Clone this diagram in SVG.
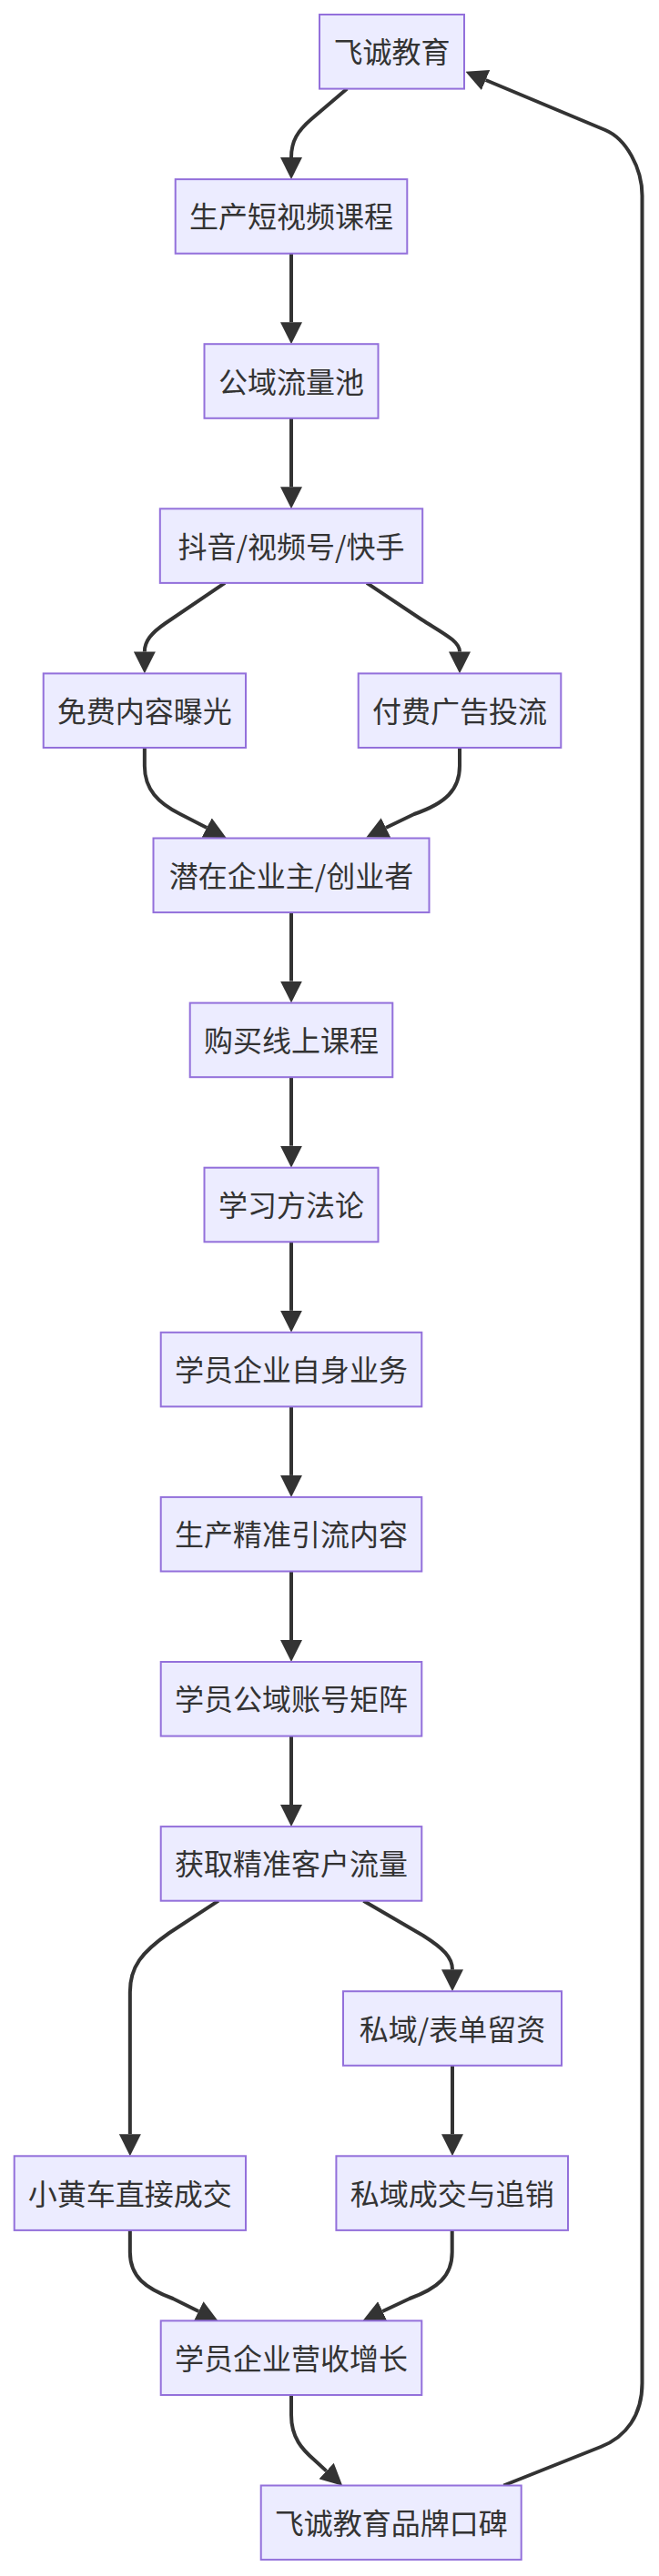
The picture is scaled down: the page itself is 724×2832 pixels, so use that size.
<svg xmlns="http://www.w3.org/2000/svg" width="724" height="2832" viewBox="0 0 724 2832">
<style>
.node rect{fill:#ECECFF;stroke:#9370DB;stroke-width:2}
.node text{font-family:"Noto Sans CJK SC","Noto Sans",sans-serif;font-size:32px;fill:#333333;text-anchor:middle}
.edge{fill:none;stroke:#333333;stroke-width:4;marker-end:url(#arrow)}
</style>
<defs>
<marker id="arrow" viewBox="0 0 10 10" refX="0" refY="5" markerUnits="userSpaceOnUse" markerWidth="24" markerHeight="24" orient="auto">
<path d="M0,0 L10,5 L0,10 z" fill="#333333"/>
</marker>
</defs>
<rect width="724" height="2832" fill="#ffffff"/>
<g id="connectors">
<path class="edge" d="M381.3,97.6 L342,131 C327,144 320,155 320,173.1"/>
<path class="edge" d="M320,278.7 L320,354.2"/>
<path class="edge" d="M320,459.8 L320,535.3"/>
<path class="edge" d="M247,640.9 L182,685 C166,696 158.85,705 158.85,716.4"/>
<path class="edge" d="M403,640.9 L463,681 C488,697 505,705 505,716.4"/>
<path class="edge" d="M158.85,822 L158.85,842 C158.85,868 174,883 198,895 L227.2,910"/>
<path class="edge" d="M505,822 L505,842 C505,868 490,883 455,895 L424,910"/>
<path class="edge" d="M320,1003.1 L320,1078.6"/>
<path class="edge" d="M320,1184.2 L320,1259.7"/>
<path class="edge" d="M320,1365.3 L320,1440.8"/>
<path class="edge" d="M320,1546.4 L320,1621.9"/>
<path class="edge" d="M320,1727.5 L320,1803"/>
<path class="edge" d="M320,1908.6 L320,1984.1"/>
<path class="edge" d="M240,2089.7 L186,2125 C156,2146 142.85,2162 142.85,2190 L142.85,2346.3"/>
<path class="edge" d="M399.4,2089.7 L465,2128 C487,2142 497,2152 497,2165.2"/>
<path class="edge" d="M497,2270.8 L497,2346.3"/>
<path class="edge" d="M142.85,2451.9 L142.85,2476 C142.85,2503 160,2516 190,2527 L218.2,2541"/>
<path class="edge" d="M496.7,2451.9 L496.7,2476 C496.7,2503 480,2516 450,2527 L420.3,2541"/>
<path class="edge" d="M320,2633 L320,2655 C320,2680 332,2693 346,2705 L358.6,2716.6"/>
<path class="edge" d="M553.3,2732.5 L660,2690 C688,2679 705.5,2655 705.5,2620 L705.5,215 C705.5,185 688,152.6 665,143 L533.6,88"/>
</g>
<g id="n1" class="node"><rect x="351" y="16" width="159" height="81.6"/><text x="430.5" y="69.3">飞诚教育</text></g>
<g id="n2" class="node"><rect x="192.7" y="197.1" width="254.6" height="81.6"/><text x="320" y="250.4">生产短视频课程</text></g>
<g id="n3" class="node"><rect x="224.5" y="378.2" width="191" height="81.6"/><text x="320" y="431.5">公域流量池</text></g>
<g id="n4" class="node"><rect x="175.8" y="559.3" width="288.4" height="81.6"/><text x="320" y="612.6">抖音/视频号/快手</text></g>
<g id="n5" class="node"><rect x="47.7" y="740.4" width="222.3" height="81.6"/><text x="158.85" y="793.7">免费内容曝光</text></g>
<g id="n6" class="node"><rect x="393.7" y="740.4" width="222.6" height="81.6"/><text x="505" y="793.7">付费广告投流</text></g>
<g id="n7" class="node"><rect x="168.5" y="921.5" width="303" height="81.6"/><text x="320" y="974.8">潜在企业主/创业者</text></g>
<g id="n8" class="node"><rect x="208.7" y="1102.6" width="222.6" height="81.6"/><text x="320" y="1155.9">购买线上课程</text></g>
<g id="n9" class="node"><rect x="224.5" y="1283.7" width="191" height="81.6"/><text x="320" y="1337">学习方法论</text></g>
<g id="n10" class="node"><rect x="176.7" y="1464.8" width="286.6" height="81.6"/><text x="320" y="1518.1">学员企业自身业务</text></g>
<g id="n11" class="node"><rect x="176.7" y="1645.9" width="286.6" height="81.6"/><text x="320" y="1699.2">生产精准引流内容</text></g>
<g id="n12" class="node"><rect x="176.7" y="1827" width="286.6" height="81.6"/><text x="320" y="1880.3">学员公域账号矩阵</text></g>
<g id="n13" class="node"><rect x="176.7" y="2008.1" width="286.6" height="81.6"/><text x="320" y="2061.4">获取精准客户流量</text></g>
<g id="n14" class="node"><rect x="377" y="2189.2" width="240" height="81.6"/><text x="497" y="2242.5">私域/表单留资</text></g>
<g id="n15" class="node"><rect x="15.7" y="2370.3" width="254.3" height="81.6"/><text x="142.85" y="2423.6">小黄车直接成交</text></g>
<g id="n16" class="node"><rect x="369.4" y="2370.3" width="254.6" height="81.6"/><text x="496.7" y="2423.6">私域成交与追销</text></g>
<g id="n17" class="node"><rect x="176.7" y="2551.4" width="286.6" height="81.6"/><text x="320" y="2604.7">学员企业营收增长</text></g>
<g id="n18" class="node"><rect x="286.7" y="2732.5" width="286" height="81.6"/><text x="429.7" y="2785.8">飞诚教育品牌口碑</text></g>
</svg>
